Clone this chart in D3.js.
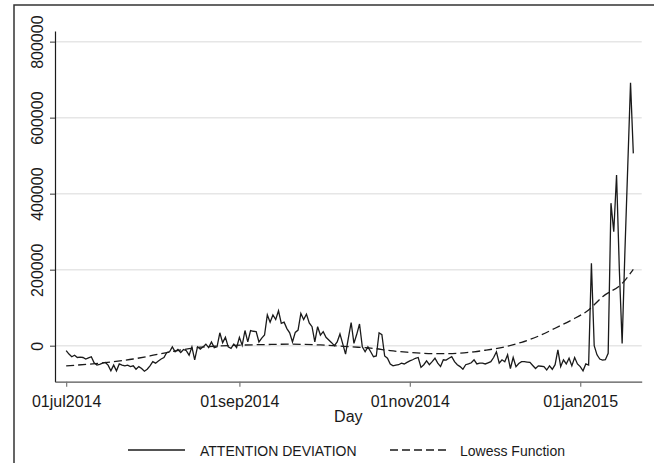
<!DOCTYPE html>
<html>
<head>
<meta charset="utf-8">
<script src="https://cdn.jsdelivr.net/npm/d3@7/dist/d3.min.js"></script>
<style>
  html, body { margin: 0; padding: 0; background: #fff; }
  svg { display: block; font-family: "Liberation Sans", Arial, Helvetica, sans-serif; }
</style>
</head>
<body>
<svg id="chart" width="654" height="463"></svg>
<script>
// Daily attention deviation, one value per day starting 01jul2014
const seriesStart = "2014-07-01";
const attention = [
  -13000, -22000, -29000, -25000, -31000, -30000, -31000, -35000, -32000, -29000,
  -45000, -51000, -49000, -46000, -44000, -51000, -66000, -51000, -66000, -48000,
  -51000, -53000, -51000, -55000, -53000, -62000, -55000, -60000, -67000, -62000,
  -53000, -42000, -46000, -40000, -35000, -31000, -18000, -16000, -3000, -16000,
  -10000, -18000, -10000, -13000, -25000, -3000, -37000, -3000, -9000, -3000,
  4000, -5000, 10000, -5000, -3000, 34000, 8000, 22000, -3000, -7000,
  4000, -5000, 22000, 1000, 40000, 10000, 40000, 38000, 37000, 10000,
  20000, 28000, 81000, 62000, 81000, 69000, 92000, 59000, 62000, 45000,
  34000, 10000, 35000, 41000, 85000, 69000, 83000, 60000, 50000, 10000,
  50000, 28000, 37000, 22000, 15000, 8000, 0, 10000, 31000, 5000,
  -22000, 20000, 61000, 6000, 30000, 57000, -3000, -16000, -3000, -16000,
  -29000, -27000, 34000, 29000, -27000, -33000, -48000, -53000, -51000, -50000,
  -46000, -48000, -44000, -40000, -37000, -33000, -31000, -57000, -50000, -40000,
  -50000, -42000, -33000, -46000, -55000, -37000, -38000, -33000, -29000, -42000,
  -50000, -55000, -62000, -50000, -48000, -45000, -37000, -48000, -46000, -46000,
  -48000, -45000, -42000, -31000, -16000, -46000, -37000, -42000, -24000, -60000,
  -31000, -55000, -47000, -42000, -42000, -43000, -44000, -52000, -60000, -53000,
  -54000, -55000, -64000, -53000, -62000, -50000, -11000, -55000, -37000, -48000,
  -33000, -53000, -31000, -48000, -55000, -66000, -48000, -51000, 217000, 0,
  -24000, -35000, -38000, -37000, -20000, 375000, 300000, 449000, 200000, 6000,
  250000, 470000, 692000, 506000
];

// Lowess fit, sampled by day offset from 01jul2014
const lowessDays = [0, 12, 24, 30, 36, 42, 48, 54, 60, 71, 80, 91, 102, 110, 116, 122, 128, 134, 140, 146, 150, 157, 163, 169, 175, 181, 187, 192, 199, 203];
const lowessValues = [-53000, -46000, -35000, -27000, -18000, -10000, -4000, -1000, 1000, 3000, 4000, 2000, -3000, -7000, -13000, -17000, -20000, -21000, -20000, -16000, -12000, -3000, 9000, 25000, 46000, 68000, 94000, 129000, 164000, 201000];

const yTickValues = [0, 200000, 400000, 600000, 800000];
const xTickDates = ["2014-07-01", "2014-09-01", "2014-11-01", "2015-01-01"];
const legendLabels = ["ATTENTION DEVIATION", "Lowess Function"];
const xTitle = "Day";

const svg = d3.select("#chart");
const ink = "#1a1a1a";

const parse = d3.utcParse("%Y-%m-%d");
const start = parse(seriesStart);
const dayAt = i => d3.utcDay.offset(start, i);

// plot region
const plotL = 55, plotR = 641.7, plotT = 31, plotB = 381.7;

const x = d3.scaleUtc()
  .domain([d3.utcDay.offset(start, -4), d3.utcDay.offset(start, 206)])
  .range([plotL, plotR]);

const y = d3.scaleLinear()
  .domain([-94700, 828000])
  .range([plotB, plotT]);

// outer frame
svg.append("rect")
  .attr("x", 14).attr("y", 5)
  .attr("width", 700).attr("height", 500)
  .attr("fill", "none")
  .attr("stroke", "#333")
  .attr("stroke-width", 1.5);

// horizontal gridlines
svg.append("g")
  .selectAll("line")
  .data(yTickValues)
  .join("line")
  .attr("x1", plotL).attr("x2", plotR)
  .attr("y1", d => y(d)).attr("y2", d => y(d))
  .attr("stroke", "#e6e6e6")
  .attr("stroke-width", 1.5);

// y axis
const yAxis = svg.append("g")
  .attr("transform", `translate(${plotL},0)`)
  .call(d3.axisLeft(y).tickValues(yTickValues).tickSize(5).tickSizeOuter(0).tickFormat(d3.format("d")));
yAxis.select(".domain").attr("stroke", ink).attr("stroke-width", 1.2);
yAxis.selectAll(".tick line").attr("stroke", "#555").attr("stroke-width", 1.2);
yAxis.selectAll(".tick text")
  .attr("transform", "rotate(-90)")
  .attr("x", 0).attr("y", -12).attr("dy", 0)
  .attr("text-anchor", "middle")
  .attr("fill", ink)
  .style("font-size", "16px");

// x axis
const fmt = d3.utcFormat("%d%b%Y");
const xAxis = svg.append("g")
  .attr("transform", `translate(0,${plotB})`)
  .call(d3.axisBottom(x)
    .tickValues(xTickDates.map(parse))
    .tickSize(5).tickSizeOuter(0)
    .tickFormat(d => fmt(d).toLowerCase()));
xAxis.select(".domain").attr("stroke", "#555").attr("stroke-width", 1.2);
xAxis.selectAll(".tick line").attr("stroke", "#777").attr("stroke-width", 1.2);
xAxis.selectAll(".tick text")
  .attr("y", 25).attr("dy", 0)
  .attr("fill", ink)
  .style("font-size", "16px");

svg.append("text")
  .attr("x", (plotL + plotR) / 2).attr("y", 421.5)
  .attr("text-anchor", "middle")
  .attr("fill", ink)
  .style("font-size", "16px")
  .text(xTitle);

// attention deviation series
const line = d3.line()
  .x((d, i) => x(dayAt(i)))
  .y(d => y(d));
svg.append("path")
  .datum(attention)
  .attr("d", line)
  .attr("fill", "none")
  .attr("stroke", ink)
  .attr("stroke-width", 1.3)
  .attr("stroke-linejoin", "miter");

// lowess curve
const lowessLine = d3.line()
  .x(d => x(dayAt(d[0])))
  .y(d => y(d[1]))
  .curve(d3.curveMonotoneX);
svg.append("path")
  .datum(d3.zip(lowessDays, lowessValues))
  .attr("d", lowessLine)
  .attr("fill", "none")
  .attr("stroke", ink)
  .attr("stroke-width", 1.3)
  .attr("stroke-dasharray", "8,4");

// legend
const legend = svg.append("g").style("font-size", "14px").attr("fill", ink);
const legendItems = [
  { x1: 128, x2: 185, tx: 200, dash: null, label: legendLabels[0] },
  { x1: 390, x2: 448, tx: 460, dash: "8,4", label: legendLabels[1] }
];
legendItems.forEach(it => {
  legend.append("line")
    .attr("x1", it.x1).attr("x2", it.x2)
    .attr("y1", 450).attr("y2", 450)
    .attr("stroke", ink)
    .attr("stroke-width", 1.3)
    .attr("stroke-dasharray", it.dash);
  legend.append("text")
    .attr("x", it.tx).attr("y", 455.5)
    .text(it.label);
});
</script>
</body>
</html>
